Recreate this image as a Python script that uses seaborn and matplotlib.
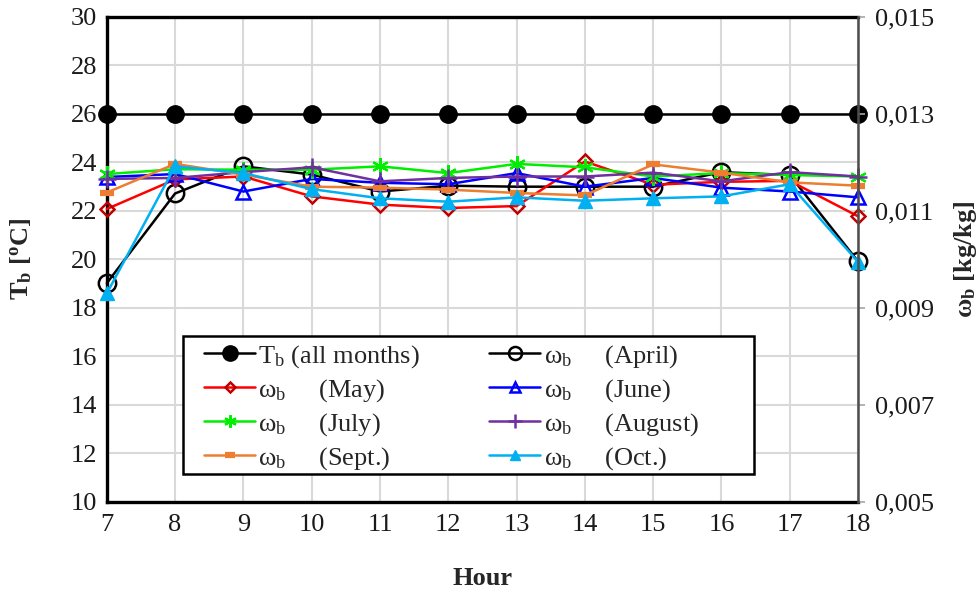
import matplotlib
matplotlib.use("Agg")
import matplotlib.pyplot as plt
from matplotlib.ticker import FuncFormatter, FixedLocator
from matplotlib.lines import Line2D
from matplotlib.patches import Rectangle
import seaborn as sns
import pandas as pd

# Hour of day
hours = [7, 8, 9, 10, 11, 12, 13, 14, 15, 16, 17, 18]

# Indoor design temperature T_b (same for all months) [°C]
t_b = [26, 26, 26, 26, 26, 26, 26, 26, 26, 26, 26, 26]

# Indoor humidity ratio w_b per month [kg/kg]
w_april = [0.00951, 0.01136, 0.01192, 0.01175, 0.01140, 0.01152, 0.01150, 0.01150, 0.01150, 0.01180, 0.01174, 0.00996]
w_may = [0.01104, 0.01165, 0.01171, 0.01130, 0.01113, 0.01106, 0.01110, 0.01202, 0.01154, 0.01160, 0.01162, 0.01089]
w_june = [0.01170, 0.01176, 0.01140, 0.01166, 0.01158, 0.01155, 0.01178, 0.01150, 0.01168, 0.01148, 0.01140, 0.01128]
w_july = [0.01176, 0.01186, 0.01185, 0.01185, 0.01192, 0.01178, 0.01197, 0.01190, 0.01171, 0.01178, 0.01174, 0.01171]
w_august = [0.01166, 0.01168, 0.01180, 0.01190, 0.01161, 0.01168, 0.01171, 0.01171, 0.01179, 0.01161, 0.01180, 0.01171]
w_sept = [0.01138, 0.01197, 0.01175, 0.01150, 0.01148, 0.01144, 0.01137, 0.01132, 0.01196, 0.01179, 0.01159, 0.01152]
w_oct = [0.00930, 0.01192, 0.01178, 0.01145, 0.01126, 0.01119, 0.01128, 0.01121, 0.01126, 0.01130, 0.01155, 0.00995]

t_ticks = [10, 12, 14, 16, 18, 20, 22, 24, 26, 28, 30]
w_ticks = [0.005, 0.007, 0.009, 0.011, 0.013, 0.015]

sns.set_theme(style="white")
plt.rcParams["font.family"] = ["Liberation Serif", "DejaVu Serif"]
plt.rcParams["mathtext.fontset"] = "custom"
plt.rcParams["mathtext.rm"] = "Liberation Serif"
plt.rcParams["mathtext.it"] = "Liberation Serif:italic"
plt.rcParams["mathtext.bf"] = "Liberation Serif:bold"

FS = 19
LW = 1.8

fig = plt.figure(figsize=(9.8, 5.96), dpi=100)
ax = fig.add_axes([0.109, 0.158, 0.7665, 0.8135])
ax2 = ax.twinx()

df_t = pd.DataFrame({"hour": hours, "T": t_b})
t_style = dict(color="black", marker="o", markersize=12.5, markerfacecolor="black",
               markeredgecolor="black", markeredgewidth=1.0)
sns.lineplot(data=df_t, x="hour", y="T", ax=ax, lw=LW, clip_on=False, zorder=3, **t_style)

series = [
    ("April", w_april, dict(color="black", marker="o", markersize=12.5, markerfacecolor="none",
                            markeredgecolor="black", markeredgewidth=1.8)),
    ("May", w_may, dict(color="#ff0000", marker="D", markersize=7, markerfacecolor="none",
                        markeredgecolor="#c00000", markeredgewidth=1.8)),
    ("June", w_june, dict(color="#0000ff", marker="^", markersize=10.5, markerfacecolor="none",
                          markeredgecolor="#0000ff", markeredgewidth=1.8)),
    ("July", w_july, dict(color="#00ee00", marker=(6, 2, 0), markersize=12,
                          markeredgecolor="#00ee00", markeredgewidth=1.6)),
    ("August", w_august, dict(color="#7030a0", marker="+", markersize=13,
                              markeredgecolor="#7030a0", markeredgewidth=1.8)),
    ("Sept.", w_sept, dict(color="#ed7d31", marker="_", markersize=10,
                           markeredgecolor="#ed7d31", markeredgewidth=4.5)),
    ("Oct.", w_oct, dict(color="#00b0f0", marker="^", markersize=9.5, markerfacecolor="#00b0f0",
                         markeredgecolor="#00b0f0", markeredgewidth=1.0)),
]

handles = {}
for name, vals, style in series:
    d = pd.DataFrame({"hour": hours, "w": vals})
    sns.lineplot(data=d, x="hour", y="w", ax=ax2, lw=LW, clip_on=False, **style)
    small = dict(style)
    small["markersize"] = style["markersize"] * 0.75
    handles[name] = Line2D([], [], lw=LW, **small)

h_t = Line2D([], [], lw=LW, **dict(t_style, markersize=11))

# axes ranges and ticks
ax.set_xlim(7, 18)
ax.set_ylim(10, 30)
ax2.set_ylim(0.005, 0.015)
ax.xaxis.set_major_locator(FixedLocator(hours))
ax.yaxis.set_major_locator(FixedLocator(t_ticks))
ax2.yaxis.set_major_locator(FixedLocator(w_ticks))
ax2.yaxis.set_major_formatter(FuncFormatter(lambda v, p: f"{v:.3f}".replace(".", ",")))

ax.grid(True, color="#d9d9d9", lw=1.5)
ax.set_axisbelow(True)

ax.tick_params(axis="y", labelsize=FS, length=0, pad=7, colors="#1a1a1a")
ax.tick_params(axis="x", labelsize=FS, length=0, pad=9, colors="#1a1a1a")
ax2.tick_params(axis="y", labelsize=FS, length=5, width=1.2, pad=7,
                direction="out", labelcolor="#1a1a1a", color="#a6a6a6")

for sp in ["left", "bottom", "top"]:
    ax.spines[sp].set_color("black")
    ax.spines[sp].set_linewidth(2.4)
for sp in ["left", "bottom", "top"]:
    ax2.spines[sp].set_visible(False)
ax2.spines["right"].set_color("#4d4d4d")
ax2.spines["right"].set_linewidth(1.8)
ax.spines["right"].set_visible(False)

ax.set_xlabel("Hour", fontsize=FS, fontweight="bold", labelpad=22)
ax.set_ylabel(r"T$_\mathbf{b}$ [$^\mathbf{o}$C]", fontsize=FS, fontweight="bold", labelpad=26)
ax2.set_ylabel(r"ω$_\mathbf{b}$ [kg/kg]", fontsize=FS, fontweight="bold", labelpad=13)

# legend box
box = Rectangle((0.1012, 0.0577), 0.7603, 0.2846, transform=ax2.transAxes,
                facecolor="white", edgecolor="black", lw=1.8, zorder=9)
ax2.add_patch(box)

# legend entries: column-wise ordering gives the row pairs T_b/April, May/June, ...
sp = "     "
leg_handles = [h_t, handles["May"], handles["July"], handles["Sept."],
               handles["April"], handles["June"], handles["August"], handles["Oct."]]
leg_labels = [r"T$_\mathrm{b}$ (all months)",
              r"ω$_\mathrm{b}$" + sp + "(May)",
              r"ω$_\mathrm{b}$" + sp + "(July)",
              r"ω$_\mathrm{b}$" + sp + "(Sept.)",
              r"ω$_\mathrm{b}$" + sp + "(April)",
              r"ω$_\mathrm{b}$" + sp + "(June)",
              r"ω$_\mathrm{b}$" + sp + "(August)",
              r"ω$_\mathrm{b}$" + sp + "(Oct.)"]
leg = ax2.legend(leg_handles, leg_labels, ncol=2, loc="upper left",
                 bbox_to_anchor=(0.1292, 0.327), frameon=False,
                 fontsize=FS, handlelength=1.95, handletextpad=0.12,
                 labelspacing=0.27, borderpad=0, columnspacing=2.6,
                 borderaxespad=0)
leg.set_zorder(10)

fig.savefig("out.png", dpi=100)
